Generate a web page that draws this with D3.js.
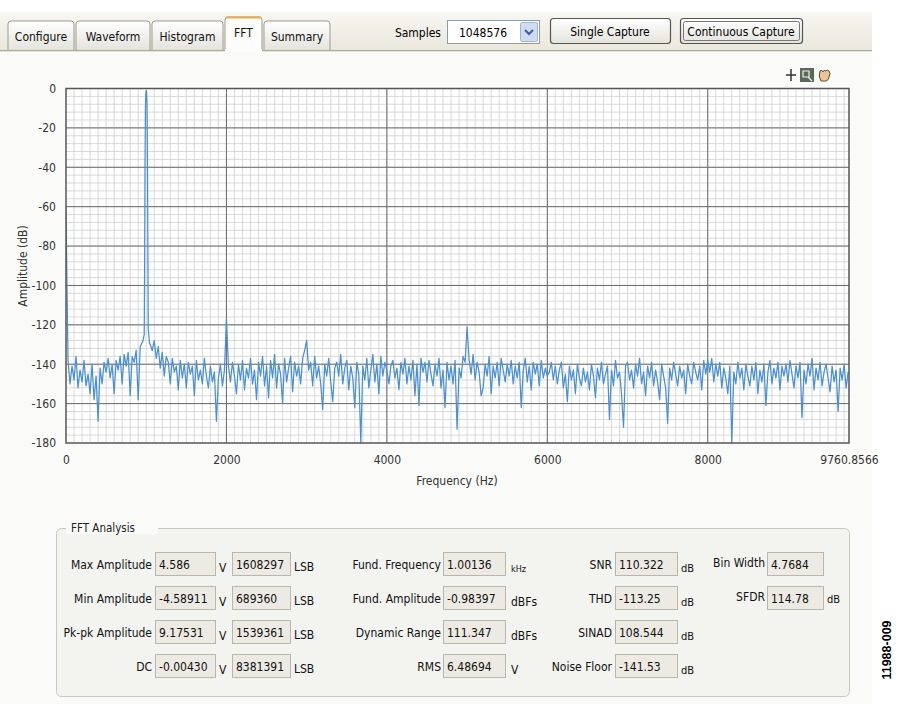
<!DOCTYPE html>
<html>
<head>
<meta charset="utf-8">
<script src="https://cdn.jsdelivr.net/npm/d3@7"></script>
<style>
  body { margin:0; background:#fff; }
  svg text { font-family:"DejaVu Sans Condensed","Liberation Sans Narrow",sans-serif; }
</style>
</head>
<body>
<div class="chart"></div>
<script>
// FFT plot of the capture
const binStep = 25; // Hz between plotted bins
const noiseDb = [
  -62,-138,-150,-141,-148,-136,-152,-143,-149,-138,-151,-145,-155,-140,-158,-146,-169,-142,-150,-139,
  -144,-137,-147,-140,-155,-138,-143,-136,-150,-135,-141,-134,-156,-136,-139,-133,-158,-131,-129,-125,
  -1,-122,-130,-133,-128,-137,-131,-142,-134,-146,-136,-139,-150,-137,-144,-141,-153,-138,-147,-140,
  -152,-139,-145,-141,-156,-138,-148,-143,-150,-137,-146,-152,-141,-149,-144,-169,-147,-140,-151,-143,
  -117,-141,-149,-139,-146,-155,-140,-148,-138,-153,-142,-147,-137,-150,-143,-158,-139,-146,-136,-151,
  -141,-157,-138,-147,-135,-152,-140,-145,-160,-137,-149,-142,-136,-154,-139,-146,-141,-150,-137,-133,
  -128,-143,-139,-151,-136,-147,-141,-150,-163,-140,-146,-137,-149,-159,-142,-139,-146,-135,-150,-142,
  -138,-153,-141,-147,-162,-139,-145,-180,-141,-148,-137,-152,-143,-135,-149,-140,-155,-136,-146,-139,
  -143,-150,-141,-138,-147,-142,-153,-139,-145,-137,-150,-141,-148,-138,-156,-140,-161,-137,-144,-139,
  -149,-138,-145,-151,-140,-146,-137,-152,-143,-162,-139,-148,-141,-150,-138,-173,-142,-147,-136,-139,
  -121,-138,-145,-135,-148,-139,-144,-156,-152,-140,-146,-136,-155,-141,-147,-139,-151,-137,-143,-149,
  -140,-146,-138,-150,-141,-147,-139,-162,-143,-137,-149,-141,-153,-139,-145,-140,-151,-138,-147,-142,
  -146,-144,-139,-148,-141,-150,-143,-139,-152,-145,-159,-141,-148,-143,-155,-140,-147,-151,-142,-149,
  -144,-153,-140,-146,-157,-142,-148,-139,-150,-145,-141,-168,-143,-151,-138,-147,-144,-155,-172,-141,
  -139,-148,-143,-152,-140,-146,-137,-150,-144,-156,-141,-147,-139,-151,-143,-149,-158,-140,-146,-152,
  -170,-142,-148,-139,-145,-151,-141,-147,-143,-155,-140,-146,-150,-139,-144,-148,-141,-153,-138,-145,
  -138,-144,-137,-149,-140,-146,-139,-152,-142,-147,-155,-141,-180,-144,-150,-139,-147,-142,-153,-140,
  -146,-151,-141,-148,-139,-155,-143,-149,-140,-161,-144,-138,-150,-142,-147,-139,-153,-141,-146,-140,
  -149,-138,-145,-152,-141,-147,-139,-167,-143,-150,-140,-146,-137,-153,-142,-148,-139,-151,-144,-140,
  -147,-154,-141,-149,-143,-164,-142,-148,-140,-152,-144
];
// extra points on the skirt and tip of the 1 kHz tone
const toneFreq = [960, 970, 980, 985, 990, 995, 1005, 1010, 1015, 1020, 1030, 1040];
const toneDb   = [-128, -126, -90, -40, -10, -3, -2, -8, -30, -75, -124, -129];

const xMax = 9760.8566;
const xTicks = [0, 2000, 4000, 6000, 8000, 9760.8566];
const yTicks = [0, -20, -40, -60, -80, -100, -120, -140, -160, -180];

const tabs = ["Configure", "Waveform", "Histogram", "FFT", "Summary"];
const samples = "1048576";

const ampLabels = ["Max Amplitude", "Min Amplitude", "Pk-pk Amplitude", "DC"];
const ampVolts  = ["4.586", "-4.58911", "9.17531", "-0.00430"];
const ampCodes  = ["1608297", "689360", "1539361", "8381391"];
const fundLabels = ["Fund. Frequency", "Fund. Amplitude", "Dynamic Range", "RMS"];
const fundValues = ["1.00136", "-0.98397", "111.347", "6.48694"];
const fundUnits  = ["kHz", "dBFs", "dBFs", "V"];
const noiseLabels = ["SNR", "THD", "SINAD", "Noise Floor"];
const noiseValues = ["110.322", "-113.25", "108.544", "-141.53"];
const binLabels = ["Bin Width", "SFDR"];
const binValues = ["4.7684", "114.78"];
const binUnits  = ["", "dB"];

const W = 900, H = 715;
const svg = d3.select(".chart").append("svg")
    .attr("width", W).attr("height", H);

const defs = svg.append("defs");
const gTab = defs.append("linearGradient").attr("id", "tabbar").attr("x1", 0).attr("y1", 0).attr("x2", 0).attr("y2", 1);
gTab.append("stop").attr("offset", "0%").attr("stop-color", "#f7f6f1");
gTab.append("stop").attr("offset", "100%").attr("stop-color", "#e9e7dd");
const gBtn = defs.append("linearGradient").attr("id", "btn").attr("x1", 0).attr("y1", 0).attr("x2", 0).attr("y2", 1);
gBtn.append("stop").attr("offset", "0%").attr("stop-color", "#ffffff");
gBtn.append("stop").attr("offset", "100%").attr("stop-color", "#e4e3dc");

// app background
svg.append("rect").attr("x", 0).attr("y", 12).attr("width", 872).attr("height", 692).attr("fill", "#fafaf8");
svg.append("rect").attr("x", 0).attr("y", 12).attr("width", 872).attr("height", 40).attr("fill", "url(#tabbar)");
svg.append("line").attr("x1", 0).attr("x2", 872).attr("y1", 50.5).attr("y2", 50.5).attr("stroke", "#a9a79c");

// tabs
const tabX = [8, 76, 152, 225, 264];
const tabW = [66, 74, 71, 37, 66];
tabs.forEach((t, i) => {
    const sel = t === "FFT";
    const top = sel ? 17 : 21;
    svg.append("path")
        .attr("d", `M${tabX[i]},50 V${top + 3} Q${tabX[i]},${top} ${tabX[i] + 3},${top} H${tabX[i] + tabW[i] - 3} Q${tabX[i] + tabW[i]},${top} ${tabX[i] + tabW[i]},${top + 3} V50`)
        .attr("fill", sel ? "#fcfcfa" : "url(#btn)")
        .attr("stroke", "#9d9b90");
    if (sel) {
        svg.append("line").attr("x1", tabX[i] + 1).attr("x2", tabX[i] + tabW[i] - 1)
            .attr("y1", top + 0.5).attr("y2", top + 0.5).attr("stroke", "#f0a848").attr("stroke-width", 2);
    }
    svg.append("text").attr("x", tabX[i] + tabW[i] / 2).attr("y", sel ? 37 : 41)
        .attr("text-anchor", "middle").attr("font-size", 12).attr("fill", "#111").text(t);
});
svg.append("rect").attr("x", 225).attr("y", 49).attr("width", 37).attr("height", 3).attr("fill", "#fcfcfa");

// samples box and buttons
svg.append("text").attr("x", 441).attr("y", 37).attr("text-anchor", "end").attr("font-size", 12).text("Samples");
svg.append("rect").attr("x", 447.5).attr("y", 20.5).attr("width", 92).attr("height", 23).attr("fill", "#fff").attr("stroke", "#8d9aa8");
svg.append("text").attr("x", 459).attr("y", 37).attr("font-size", 12).text(samples);
svg.append("rect").attr("x", 520.5).attr("y", 22.5).attr("width", 17).attr("height", 19).attr("rx", 2)
    .attr("fill", "#cfdcf0").attr("stroke", "#9fb2d0");
svg.append("path").attr("d", "M525,30 L529,34 L533,30").attr("fill", "none").attr("stroke", "#3b5ea8").attr("stroke-width", 2);

const buttons = [{x: 550, w: 120, t: "Single Capture"}, {x: 680, w: 122, t: "Continuous Capture"}];
buttons.forEach((b, i) => {
    svg.append("rect").attr("x", b.x + 0.5).attr("y", 18.5).attr("width", b.w).attr("height", 25).attr("rx", 3)
        .attr("fill", "url(#btn)").attr("stroke", "#555").attr("stroke-width", 1.2);
    if (i === 1) {
        svg.append("rect").attr("x", b.x + 3.5).attr("y", 21.5).attr("width", b.w - 6).attr("height", 19).attr("rx", 2)
            .attr("fill", "none").attr("stroke", "#777");
    }
    svg.append("text").attr("x", b.x + b.w / 2).attr("y", 36).attr("text-anchor", "middle").attr("font-size", 12).text(b.t);
});
svg.append("clipPath").attr("id", "edge").append("rect").attr("x", 0).attr("y", 0).attr("width", 872).attr("height", H);
svg.append("circle").attr("cx", 884).attr("cy", 31).attr("r", 12).attr("fill", "#2f6fd0").attr("clip-path", "url(#edge)");

// toolbar icons
const tb = svg.append("g").attr("transform", "translate(784,67)");
tb.append("path").attr("d", "M7,2 V14 M2,8 H12").attr("stroke", "#333").attr("stroke-width", 1.5);
tb.append("rect").attr("x", 16).attr("y", 1).attr("width", 14).attr("height", 14).attr("fill", "#5a6a5a");
tb.append("path").attr("d", "M19,4 h6 v6 h-6 z M24,10 l4,4").attr("fill", "none").attr("stroke", "#eee").attr("stroke-width", 1.2);
tb.append("path").attr("d", "M37,14 q-3,-5 -1,-10 q2,-2 3,1 q1,-3 3,-1 q1,-2 3,0 q2,2 0,6 q-1,4 -3,4 z")
    .attr("fill", "#e9c59b").attr("stroke", "#6a4a2a");

// plot area
const margin = {top: 88.5, left: 66, right: 51, bottom: 272};
const width = W - margin.left - margin.right,
    height = H - margin.top - margin.bottom;

const g = svg.append("g").attr("transform", `translate(${margin.left},${margin.top})`);

const xScale = d3.scaleLinear().domain([0, xMax]).range([0, width]);
const yScale = d3.scaleLinear().domain([-180, 0]).range([height, 0]);

g.append("rect").attr("width", width).attr("height", height).attr("fill", "#fff");

// minor grid
g.append("g").selectAll("line").data(d3.range(100, xMax, 100)).enter().append("line")
    .attr("x1", d => xScale(d)).attr("x2", d => xScale(d)).attr("y1", 0).attr("y2", height)
    .attr("stroke", "#cfcfcf").attr("stroke-width", 0.8);
g.append("g").selectAll("line").data(d3.range(-176, 0, 4)).enter().append("line")
    .attr("y1", d => yScale(d)).attr("y2", d => yScale(d)).attr("x1", 0).attr("x2", width)
    .attr("stroke", "#cfcfcf").attr("stroke-width", 0.8);
// major grid
g.append("g").selectAll("line").data(xTicks.slice(1, -1)).enter().append("line")
    .attr("x1", d => xScale(d)).attr("x2", d => xScale(d)).attr("y1", 0).attr("y2", height)
    .attr("stroke", "#6a6a6a").attr("stroke-width", 1);
g.append("g").selectAll("line").data(yTicks.slice(1, -1)).enter().append("line")
    .attr("y1", d => yScale(d)).attr("y2", d => yScale(d)).attr("x1", 0).attr("x2", width)
    .attr("stroke", "#6a6a6a").attr("stroke-width", 1);

// spectrum trace
const points = noiseDb.map((v, i) => ({f: i * binStep, db: v}))
    .concat(toneFreq.map((f, i) => ({f: f, db: toneDb[i]})))
    .sort((a, b) => a.f - b.f);

g.append("clipPath").attr("id", "plotclip").append("rect").attr("width", width).attr("height", height + 1);
g.append("path")
    .datum(points)
    .attr("clip-path", "url(#plotclip)")
    .attr("fill", "none")
    .attr("stroke", "#4a90d2")
    .attr("stroke-width", 1.25)
    .attr("stroke-linejoin", "round")
    .attr("d", d3.line().x(d => xScale(d.f)).y(d => yScale(d.db)));

g.append("rect").attr("width", width).attr("height", height)
    .attr("fill", "none").attr("stroke", "#555").attr("stroke-width", 1.5);

// axes
const xAxis = d3.axisBottom(xScale).tickValues(xTicks).tickSize(0).tickPadding(12)
    .tickFormat(d => d === xMax ? "9760.8566" : String(d));
const yAxis = d3.axisLeft(yScale).tickValues(yTicks).tickSize(0).tickPadding(10)
    .tickFormat(d => String(d));

g.append("g").attr("class", "axis x-axis").attr("transform", `translate(0,${height})`).call(xAxis)
    .call(a => a.select(".domain").remove())
    .selectAll("text").attr("font-size", 12).attr("fill", "#333")
    .style("font-family", "DejaVu Sans Condensed, sans-serif");
g.append("g").attr("class", "axis y-axis").call(yAxis)
    .call(a => a.select(".domain").remove())
    .selectAll("text").attr("font-size", 12).attr("fill", "#333")
    .style("font-family", "DejaVu Sans Condensed, sans-serif");

svg.append("text").attr("x", 457).attr("y", 485).attr("text-anchor", "middle")
    .attr("font-size", 12).attr("fill", "#333").text("Frequency (Hz)");
svg.append("text").attr("transform", "translate(27,266) rotate(-90)").attr("text-anchor", "middle")
    .attr("font-size", 12).attr("fill", "#333").text("Amplitude (dB)");

// FFT Analysis group box
svg.append("rect").attr("x", 56.5).attr("y", 528.5).attr("width", 793).attr("height", 168).attr("rx", 5)
    .attr("fill", "#f3f3ef").attr("stroke", "#c9c8c0");
svg.append("rect").attr("x", 66).attr("y", 520).attr("width", 92).attr("height", 14).attr("fill", "#fafaf8");
svg.append("text").attr("x", 71).attr("y", 532).attr("font-size", 11.5).attr("fill", "#222").text("FFT Analysis");

const rowY = i => 564 + i * 34;
function field(x, y, w, val) {
    svg.append("rect").attr("x", x + 0.5).attr("y", y - 11.5).attr("width", w).attr("height", 23)
        .attr("fill", "#eceae2").attr("stroke", "#b8b7ae");
    svg.append("text").attr("x", x + 4).attr("y", y + 4.5).attr("font-size", 12).attr("fill", "#111").text(val);
}
function label(x, y, t, anchor, size) {
    svg.append("text").attr("x", x).attr("y", y + 4.5).attr("text-anchor", anchor || "end")
        .attr("font-size", size || 12).attr("fill", "#111").text(t);
}

ampLabels.forEach((t, i) => {
    label(152, rowY(i), t);
    field(155, rowY(i), 60, ampVolts[i]);
    label(219, rowY(i) + 3, "V", "start");
    field(232, rowY(i), 58, ampCodes[i]);
    label(294, rowY(i) + 2, "LSB", "start");
});
fundLabels.forEach((t, i) => {
    label(441, rowY(i), t);
    field(443, rowY(i), 62, fundValues[i]);
    label(511, rowY(i) + 3, fundUnits[i], "start", i === 0 ? 9 : 12);
});
noiseLabels.forEach((t, i) => {
    label(612, rowY(i), t);
    field(615, rowY(i), 62, noiseValues[i]);
    label(681, rowY(i) + 3, "dB", "start", 11);
});
binLabels.forEach((t, i) => {
    label(765, rowY(i) - 2, t);
    field(767, rowY(i), 56, binValues[i]);
    label(827, rowY(i), binUnits[i], "start", 11);
});

// figure number
svg.append("text").attr("transform", "translate(891,650) rotate(-90)").attr("text-anchor", "middle")
    .attr("font-size", 12.5).attr("font-weight", "bold").style("font-family", "Liberation Sans, Arial, sans-serif")
    .text("11988-009");
</script>
</body>
</html>
